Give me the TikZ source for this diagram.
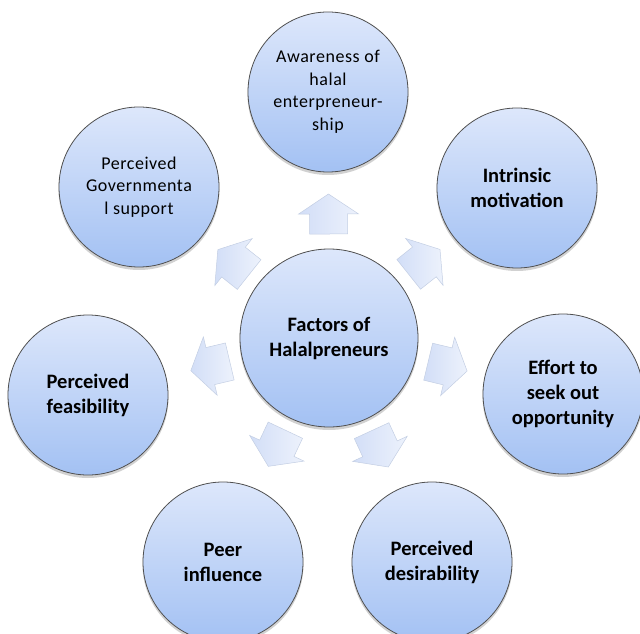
\documentclass[tikz,border=0pt]{standalone}
\usepackage{fontspec}
\setmainfont{Carlito}
\usetikzlibrary{calc,backgrounds}
\definecolor{ctop}{HTML}{DDE7FB}
\definecolor{cbot}{HTML}{A3C1F3}
\definecolor{cline}{HTML}{505050}
\definecolor{atop}{HTML}{EDF2FC}
\definecolor{abot}{HTML}{D2DEF7}
\definecolor{aline}{HTML}{C3CEE3}
\tikzset{
  bub/.style={circle, draw=cline, line width=0.8pt, top color=ctop, bottom color=cbot,
    minimum size=160pt, inner sep=0pt, align=center},
  big/.style={bub, minimum size=178pt},
  bt/.style={font=\fontsize{20.5}{25}\selectfont\bfseries},
  rt/.style={font=\fontsize{18}{22.5}\selectfont\addfontfeatures{LetterSpace=3}},
  arr/.style={draw=aline, line width=0.5pt, left color=abot, right color=atop},
  shad/.style={fill=black, opacity=0.18},
  barrow/.pic={\path[arr] (-20,-19) -- (0,-19) -- (0,-30) -- (20,0) -- (0,30) -- (0,19) -- (-20,19) -- cycle;}
}
\begin{document}
\begin{tikzpicture}[x=1pt,y=1pt]
\useasboundingbox (0,0) rectangle (640,633);
\node[big,bt] (c) at (329,295) {Factors of\\Halalpreneurs};
\node[bub,rt] (n1) at (328,541) {Awareness of\\halal\\enterpreneur-\\ship};
\node[bub,rt] (n2) at (139,446) {Perceived\\Governmenta\\l support};
\node[bub,bt] (n3) at (517,445) {Intrinsic\\motivation};
\node[bub,bt] (n4) at (88,238) {Perceived\\feasibility};
\node[bub,bt] (n5) at (563,239) {Effort to\\seek out\\opportunity};
\node[bub,bt] (n6) at (223,71) {Peer\\influence};
\node[bub,bt] (n7) at (432,71) {Perceived\\desirability};
\begin{scope}[on background layer]
  \fill[shad] ([yshift=-2.5pt]c.center) circle (89.5);
  \foreach \n in {n1,n2,n3,n4,n5,n6,n7}
    \fill[shad] ([yshift=-2.5pt]\n.center) circle (80.5);
\end{scope}
\pic[rotate=90.2] at ($(c)!124pt!(n1)$) {barrow};
\pic[rotate=141.5] at ($(c)!122pt!(n2)$) {barrow};
\pic[rotate=38.6] at ($(c)!122pt!(n3)$) {barrow};
\pic[rotate=193.3] at ($(c)!122pt!(n4)$) {barrow};
\pic[rotate=-13.5] at ($(c)!122pt!(n5)$) {barrow};
\pic[rotate=244.7] at ($(c)!122pt!(n6)$) {barrow};
\pic[rotate=294.7] at ($(c)!122pt!(n7)$) {barrow};
\end{tikzpicture}
\end{document}
